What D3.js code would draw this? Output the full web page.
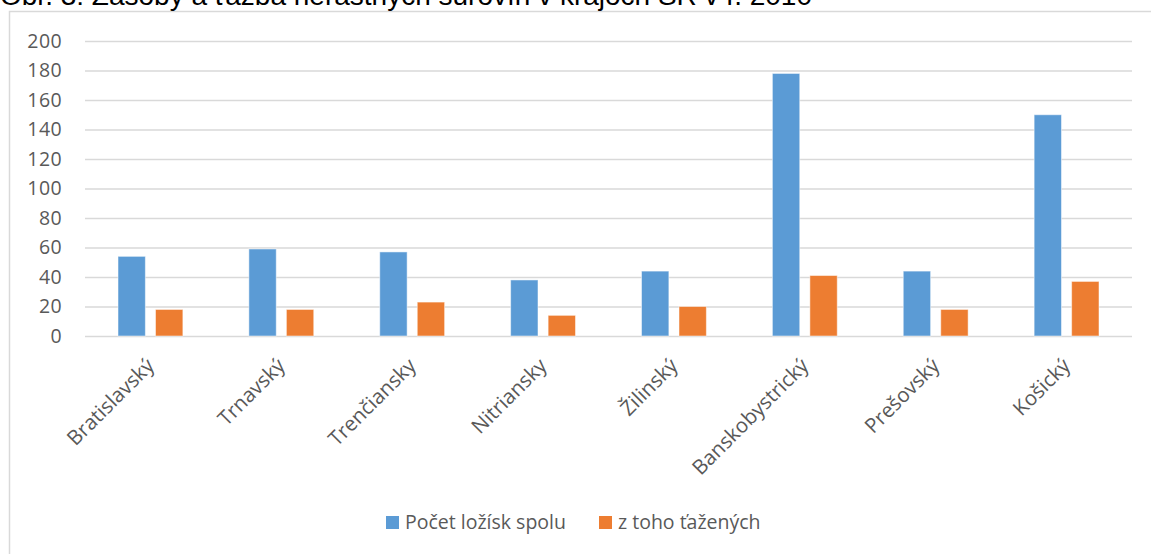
<!DOCTYPE html>
<html><head><meta charset="utf-8">
<script src="https://cdn.jsdelivr.net/npm/d3@7"></script>
<style>body{margin:0;background:#fff}svg{display:block}</style>
</head><body>
<svg id="c" width="1151" height="554"></svg>
<script>
const title = "Obr. 3: Zásoby a ťažba nerastných surovín v krajoch SR v r. 2010";
const categories = ["Bratislavský","Trnavský","Trenčiansky","Nitriansky","Žilinský","Banskobystrický","Prešovský","Košický"];
const seriesNames = ["Počet ložísk spolu","z toho ťažených"];
const totalDeposits = [54,59,57,38,44,178,44,150];
const minedDeposits = [18,18,23,14,20,41,18,37];
const yTicks = [0,20,40,60,80,100,120,140,160,180,200];
const colors = ["#5B9BD5","#ED7D31"];

const svg = d3.select("#c");
const font = "'Open Sans', sans-serif";
const m = {left:85, right:1132, top:41, bottom:336};

// frame
svg.append("path").attr("d","M9.5,554 L9.5,11.5 L1151,11.5").attr("fill","none").attr("stroke","#d9d9d9").attr("stroke-width",1.5);

// title (clipped at top, as in the reference)
svg.append("text").attr("x",0).attr("y",5).attr("font-family","'Liberation Sans', Arial, sans-serif")
  .attr("font-size",28).attr("fill","#000").text(title);

const x = d3.scaleBand().domain(categories).range([m.left,m.right]).paddingInner(0).paddingOuter(0);
const x1 = d3.scaleBand().domain([0,1]).range([0,x.bandwidth()]).paddingInner(0.27).paddingOuter(0.88);
const y = d3.scaleLinear().domain([0,200]).range([m.bottom,m.top]);

// grid
const yAxis = d3.axisLeft(y).tickValues(yTicks).tickSize(-(m.right-m.left)).tickPadding(23);
const ga = svg.append("g").attr("transform",`translate(${m.left},0)`).call(yAxis);
ga.select(".domain").remove();
ga.selectAll(".tick line").attr("stroke","#d9d9d9").attr("stroke-width",1.5);
ga.selectAll(".tick text").attr("font-family",font).attr("font-size",19.5).attr("letter-spacing",0.4).attr("fill","#595959");

const data = [totalDeposits, minedDeposits];
data.forEach((vals,si)=>{
  svg.append("g").selectAll("rect").data(vals).join("rect")
    .attr("x",(d,i)=>x(categories[i])+x1(si))
    .attr("width",x1.bandwidth())
    .attr("y",d=>y(d))
    .attr("height",d=>y(0)-y(d))
    .attr("fill",colors[si])
    .attr("stroke","#fff").attr("stroke-opacity",0.5).attr("stroke-width",1);
});

// x labels
const xAxis = d3.axisBottom(x).tickSize(0).tickPadding(0);
const gx = svg.append("g").attr("transform",`translate(0,${m.bottom})`).call(xAxis);
gx.select(".domain").remove();
gx.selectAll(".tick text").attr("font-family",font).attr("font-size",20.5).attr("fill","#595959")
  .attr("text-anchor","end").attr("dy",0)
  .attr("transform","translate(5,31) rotate(-45)");

// legend
const lg = svg.append("g");
const legendPos = [386, 599];
seriesNames.forEach((n,i)=>{
  lg.append("rect").attr("x",legendPos[i]).attr("y",516).attr("width",13).attr("height",13).attr("fill",colors[i]);
  lg.append("text").attr("x",legendPos[i]+19).attr("y",529).attr("font-family",font).attr("font-size",19.5)
    .attr("fill","#595959").text(n);
});
</script>
</body></html>
